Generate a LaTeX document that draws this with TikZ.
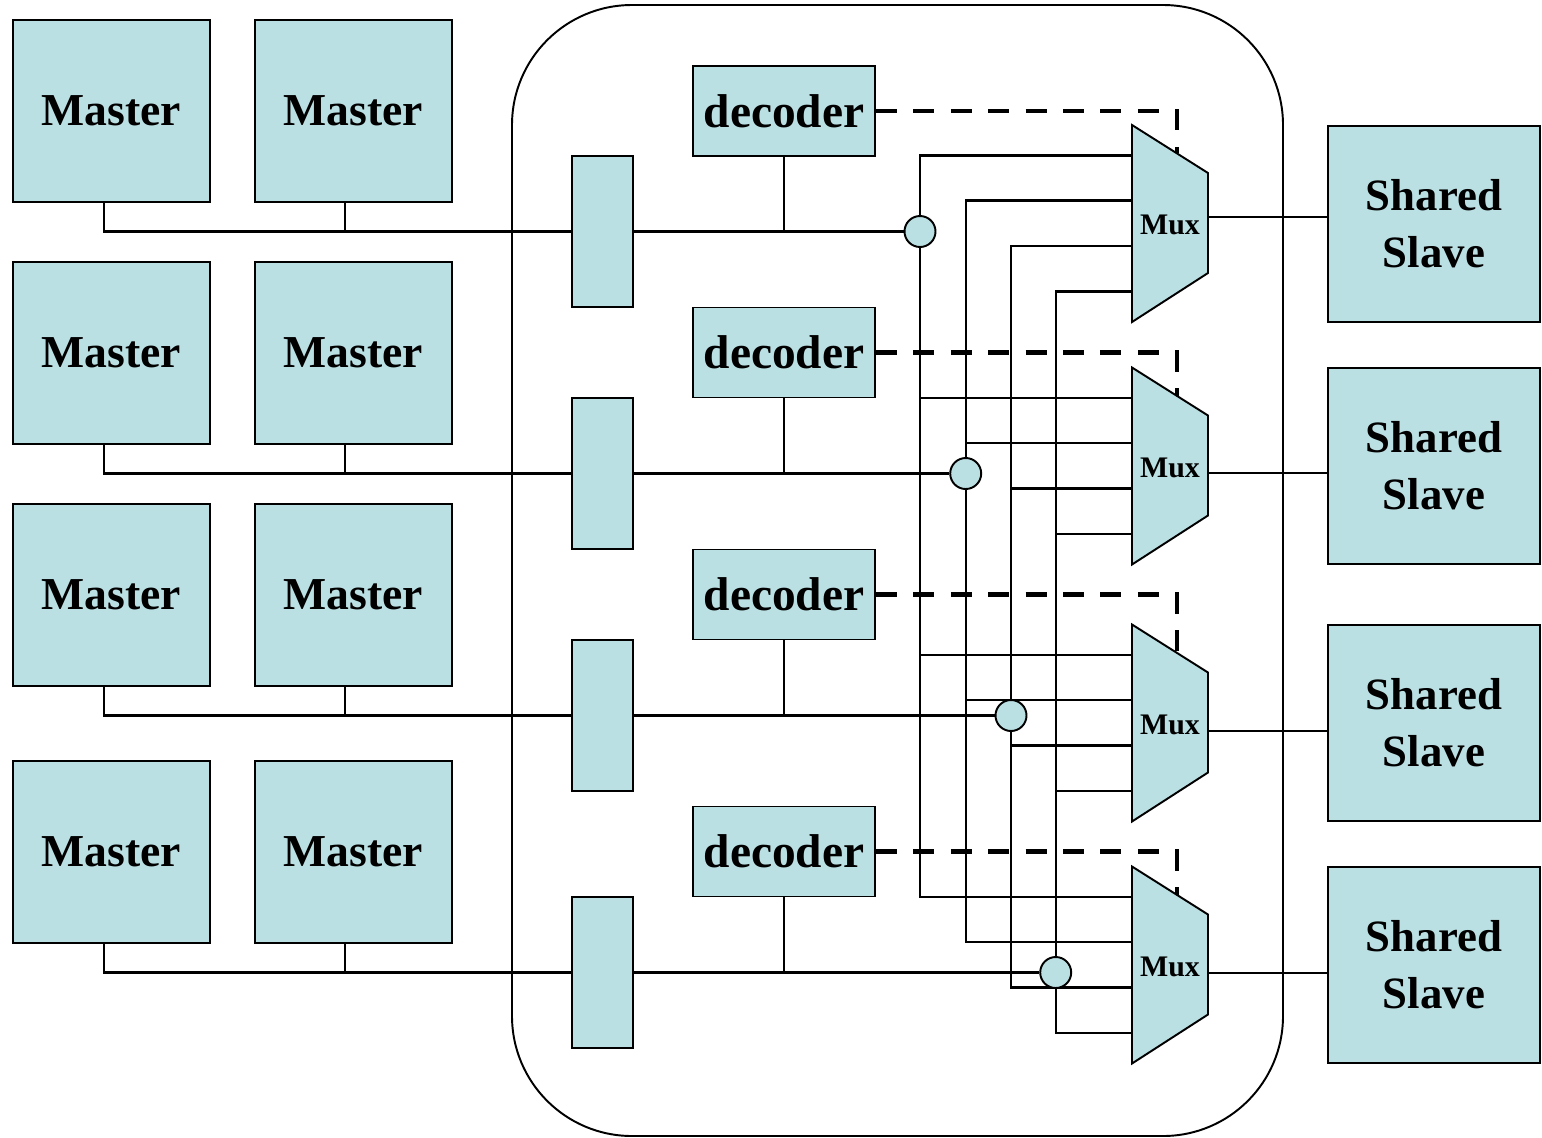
\documentclass[tikz,border=0pt]{standalone}
\usepackage{fontspec}
\setmainfont{Liberation Serif}
\definecolor{unitfill}{RGB}{187,224,227}
\pgfdeclarelayer{background}
\pgfsetlayers{background,main}
\begin{document}
\begin{tikzpicture}[x=0.02cm,y=-0.02cm,
  unit/.style={draw=black, line width=1.1pt, fill=unitfill, inner sep=0pt,
               font=\bfseries\fontsize{26}{30}\selectfont},
  master/.style={unit, minimum width=3.94cm, minimum height=3.64cm},
  port/.style={unit, minimum width=1.22cm, minimum height=3.02cm},
  decoderbox/.style={unit, minimum width=3.64cm, minimum height=1.8cm,
                     font=\bfseries\fontsize{27}{30}\selectfont},
  slave/.style={unit, minimum width=4.24cm, minimum height=3.92cm, align=center,
                font=\bfseries\fontsize{25.5}{32.3}\selectfont},
  junction/.style={circle, draw=black, line width=1.1pt, fill=unitfill,
                   minimum size=0.62cm, inner sep=0pt},
  wire/.style={line width=1.2pt},
  heavywire/.style={line width=1.6pt},
  selline/.style={line width=2.6pt, dash pattern=on 11.9pt off 9.4pt},
  muxbody/.style={draw=black, line width=1.1pt, fill=unitfill, line join=miter},
  muxlabel/.style={font=\bfseries\fontsize{17}{20}\selectfont, inner sep=0pt}
]
\useasboundingbox (0,0) rectangle (1542,1137);

% masters, two per row
\foreach \r/\y in {1/111, 2/353, 3/595, 4/852} {
  \node[master] (m\r1) at (111.5,\y) {Master};
  \node[master] (m\r2) at (353.5,\y) {Master};
}

% bus ports and address decoders
\foreach \r/\py/\dy in {1/231.5/111, 2/473.5/352.5, 3/715.5/594.5, 4/972.5/851.5} {
  \node[port] (p\r) at (602.5,\py) {};
  \node[decoderbox] (d\r) at (784,\dy) {decoder};
}

% junctions where each bus fans out to the multiplexers
\node[junction] (c1) at (920,231.5) {};
\node[junction] (c2) at (965.7,473.5) {};
\node[junction] (c3) at (1011,715.5) {};
\node[junction] (c4) at (1055.7,972.5) {};

% multiplexers and shared slaves
\foreach \k/\t/\o/\sy in {1/125/216.7/224, 2/367.5/473/466, 3/624.5/730.7/723, 4/866.5/973/965} {
  \draw[muxbody] (1132,\t) -- (1208,\t+48) -- (1208,\t+148) -- (1132,\t+197) -- cycle;
  \node[muxlabel] (mux\k) at (1170,\t+100) {Mux};
  \coordinate (mux\k-in1) at (1132,\t+30.5);
  \coordinate (mux\k-in2) at (1132,\t+75.5);
  \coordinate (mux\k-in3) at (1132,\t+121);
  \coordinate (mux\k-in4) at (1132,\t+166.5);
  \coordinate (mux\k-sel) at (1177,\t+28.4);
  \coordinate (mux\k-out) at (1208,\o);
  \node[slave] (s\k) at (1434,\sy) {Shared\\Slave};
}

\begin{pgfonlayer}{background}
  % interconnect boundary
  \draw[line width=1.1pt, rounded corners=2.4cm] (512,5) rectangle (1283,1136);

  % masters to ports, ports to decoders and junctions
  \foreach \r in {1,2,3,4} {
    \draw[wire] (m\r1.south -| 104,0) |- (p\r.west);
    \draw[wire] (m\r2.south -| 345,0) -- (345,0 |- p\r.west);
    \draw[wire] (d\r.south) -- (d\r.south |- p\r.east);
    \draw[heavywire] (p\r.east) -- (c\r.west);
  }

  % each bus feeds the same input of every multiplexer
  \foreach \j in {1,2,3,4} {
    \draw[wire] (mux1-in\j) -| (c\j.north);
    \draw[wire] (c\j.south) |- (mux4-in\j);
    \draw[wire] (c\j |- mux2-in\j) -- (mux2-in\j);
    \draw[wire] (c\j |- mux3-in\j) -- (mux3-in\j);
  }

  % multiplexer outputs to slaves
  \foreach \k in {1,2,3,4} {
    \draw[wire] (mux\k-out) -- (mux\k-out -| s\k.west);
  }

  % decoder select lines
  \foreach \k in {1,2,3,4} {
    \draw[selline] (d\k.east) -| (mux\k-sel);
  }
\end{pgfonlayer}
\end{tikzpicture}
\end{document}
